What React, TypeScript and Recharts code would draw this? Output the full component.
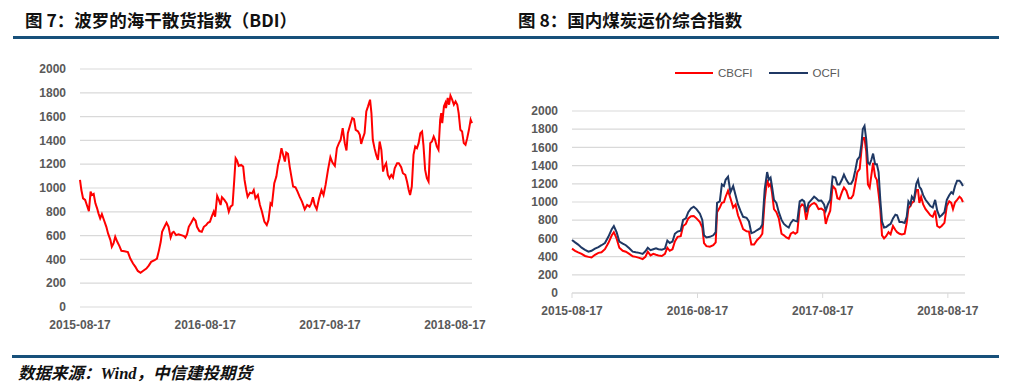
import React from 'react';
import { LineChart, Line, XAxis, YAxis, CartesianGrid, Legend } from 'recharts';

// shared axes
const yearTicks = [0, 366, 731, 1096];
const yearLabels = ['2015-08-17', '2016-08-17', '2017-08-17', '2018-08-17'];
const valueTicks = [0, 200, 400, 600, 800, 1000, 1200, 1400, 1600, 1800, 2000];

// 图7 BDI, x = days since 2015-08-17
const bdiDays = [
  0, 4, 9, 15, 20, 26, 31, 35, 40, 45, 50, 54, 59, 64, 70, 77, 82, 89, 93, 98,
  103, 109, 115, 121, 130, 140, 147, 155, 162, 169, 177, 184, 194, 201, 208, 218, 225, 231, 236, 240,
  247, 253, 259, 265, 270, 274, 281, 288, 296, 304, 308, 313, 318, 325, 332, 338, 342, 349, 356, 362,
  369, 374, 380, 385, 391, 395, 401, 406, 411, 415, 422, 429, 435, 440, 446, 451, 455, 459, 464, 471,
  477, 481, 486, 490, 497, 503, 508, 513, 520, 526, 532, 539, 546, 551, 557, 561, 568,
  574, 579, 584, 589, 594, 599, 603, 608, 613, 618, 623, 630, 636, 642, 649, 657, 664, 671, 676, 681,
  686, 692, 699, 706, 712, 718, 725, 732, 738, 745, 751, 757, 762, 768, 774, 779, 783, 790, 796, 801,
  806, 813, 818, 822, 827, 832, 837, 842, 848, 852, 856, 861, 866, 871, 876, 881, 886, 890, 895, 900,
  905, 910, 915, 920, 927, 932, 939, 944, 951, 956, 961, 965, 970, 975, 980, 985, 990, 995, 1000, 1004,
  1009, 1014, 1019, 1024, 1029, 1034, 1038, 1043, 1048, 1053, 1056, 1059, 1064, 1068, 1070, 1075, 1079, 1083, 1088, 1093,
  1098, 1103, 1107, 1112, 1117, 1122, 1127, 1132, 1137, 1142, 1146,
];
const bdiValues = [
  1068, 983, 913, 900, 857, 806, 970, 941, 950, 871, 829, 787, 745, 781, 731, 674, 618, 562, 506, 534,
  590, 548, 514, 472, 469, 461, 407, 365, 337, 303, 287, 303, 323, 348, 379, 393, 407, 478, 548, 632,
  674, 708, 674, 584, 624, 632, 604, 610, 604, 596, 582, 612, 674, 708, 745, 725, 674, 638, 632, 674,
  688, 708, 717, 759, 801, 759, 933, 900, 857, 922, 900, 871, 801, 843, 857, 1068, 1250, 1231, 1186, 1194,
  1180, 1068, 983, 927, 961, 955, 983, 913, 941, 857, 801, 717, 688, 731, 871, 857, 1040,
  1096, 1194, 1250, 1335, 1278, 1222, 1298, 1287, 1180, 1096, 1012, 1006, 969, 927, 885, 821, 857, 843, 871, 922,
  857, 821, 913, 983, 941, 1026, 1152, 1259, 1214, 1186, 1335, 1377, 1405, 1503, 1377, 1315, 1461, 1532, 1588, 1579,
  1489, 1475, 1447, 1371, 1419, 1461, 1644, 1686, 1742, 1630, 1405, 1335, 1278, 1236, 1391, 1321, 1138, 1180, 1208, 1110,
  1082, 1110, 1088, 1166, 1208, 1208, 1175, 1124, 1110, 1054, 983, 941, 1012, 1278, 1349, 1335, 1377, 1461, 1475, 1363,
  1152, 1082, 1054, 1377, 1391, 1433, 1405, 1349, 1321, 1574, 1630, 1545, 1686, 1714, 1672, 1756, 1700, 1776, 1742, 1700,
  1728, 1700, 1630, 1489, 1475, 1377, 1363, 1419, 1489, 1574, 1545,
];

// 图8 coal freight indices
const coalDays = [
  0, 9, 18, 28, 38, 48, 57, 67, 77, 86, 96, 106, 116, 122, 130, 138, 148, 157, 167, 177,
  186, 196, 206, 214, 221, 229, 237, 245, 252, 262, 271, 278, 285, 293, 300, 308, 317, 324, 332, 339,
  347, 355, 363, 373, 380, 385, 392, 402, 412, 419, 423, 431, 437, 443, 448, 455, 462, 470, 477, 484,
  491, 499, 509, 516, 523, 531, 540, 549, 555, 562, 569,
  574, 579, 583, 589, 596, 603, 611, 618, 625, 632, 638, 645, 651, 657, 664, 671, 677, 683, 690, 698,
  706, 712, 719, 727, 735, 740, 746, 753, 760, 768, 774, 780, 787, 793, 800, 807, 814, 820, 826, 832,
  839, 844, 848, 853, 858, 863, 868, 873, 878, 884, 889, 894, 899, 904, 910, 916, 923, 929, 936, 943,
  948, 955, 962, 970, 976, 981, 987, 991, 997, 1004, 1009, 1013, 1018, 1024, 1031, 1038, 1045, 1052, 1059, 1065,
  1072, 1078, 1086, 1093, 1100, 1106, 1111, 1117, 1123, 1130, 1135, 1140,
];
const cbcfiValues = [
  488, 464, 447, 430, 407, 397, 390, 420, 441, 447, 481, 549, 634, 668, 600, 498, 464, 454, 430, 403,
  397, 386, 373, 397, 454, 413, 430, 420, 413, 407, 430, 498, 464, 481, 566, 617, 624, 736, 759, 820,
  844, 847, 820, 780, 719, 549, 515, 508, 525, 556, 888, 939, 990, 997, 1058, 1125, 1041, 939, 973, 854,
  786, 702, 678, 675, 532, 532, 583, 617, 651, 1024, 1244,
  1176, 1200, 1108, 922, 888, 820, 651, 634, 610, 597, 651, 668, 651, 668, 939, 973, 956, 803, 939, 973,
  990, 973, 922, 929, 905, 759, 837, 905, 1176, 1142, 1041, 1031, 1108, 1159, 1125, 1041, 1041, 1075, 1200, 1329,
  1363, 1566, 1702, 1702, 1556, 1193, 1159, 1295, 1431, 1278, 1244, 1092, 922, 634, 600, 624, 668, 644, 736, 692,
  668, 651, 644, 651, 770, 929, 956, 990, 1007, 1132, 1132, 990, 1058, 973, 922, 888, 854, 837, 905, 736,
  719, 736, 770, 956, 1007, 990, 922, 997, 1024, 1058, 1041, 1000,
];
const ocfiValues = [
  583, 556, 532, 498, 475, 454, 464, 488, 505, 525, 549, 617, 702, 736, 668, 566, 542, 525, 491, 454,
  447, 441, 430, 458, 498, 471, 481, 491, 481, 475, 488, 576, 549, 566, 651, 675, 685, 803, 820, 888,
  929, 949, 922, 871, 803, 634, 610, 617, 634, 668, 990, 1007, 1193, 1176, 1244, 1278, 1108, 1176, 1075, 973,
  905, 837, 827, 786, 658, 668, 692, 712, 753, 1142, 1329,
  1244, 1268, 1176, 1024, 990, 888, 803, 759, 736, 719, 770, 803, 793, 786, 1007, 1024, 1007, 888, 990, 1024,
  1058, 1041, 1014, 1017, 973, 905, 973, 1024, 1278, 1268, 1193, 1193, 1244, 1302, 1244, 1200, 1200, 1244, 1346, 1464,
  1498, 1634, 1803, 1837, 1685, 1431, 1414, 1464, 1532, 1414, 1414, 1329, 1024, 786, 719, 725, 746, 759, 820, 861,
  854, 780, 780, 770, 837, 1007, 973, 1058, 1024, 1200, 1244, 1166, 1142, 1075, 1024, 990, 956, 939, 1024, 905,
  837, 854, 888, 1024, 1075, 1108, 1092, 1176, 1234, 1234, 1210, 1176,
];

const bdiData = bdiDays.map((d, i) => ({ day: d, bdi: bdiValues[i] }));
const coalData = coalDays.map((d, i) => ({ day: d, CBCFI: cbcfiValues[i], OCFI: ocfiValues[i] }));

const AXIS_FONT = '"Liberation Sans", Arial, sans-serif';
const tickStyle = { fill: '#595959', fontSize: 12, fontWeight: 700, fontFamily: AXIS_FONT };
const fmtYear = (v: number) => yearLabels[yearTicks.indexOf(v)] ?? '';
const RULE = '#17507a';

const CoalLegend = () => (
  <div style={{ display: 'flex', alignItems: 'center', fontFamily: AXIS_FONT, fontSize: 11.5, color: '#595959' }}>
    <span style={{ display: 'inline-block', width: 38, height: 2, background: '#ff0000', marginRight: 5 }} />
    <span style={{ marginRight: 16 }}>CBCFI</span>
    <span style={{ display: 'inline-block', width: 39, height: 2, background: '#1f3864', marginRight: 5 }} />
    <span>OCFI</span>
  </div>
);

export default function App() {
  return (
    <div style={{ position: 'absolute', left: 0, top: 0, width: 1018, height: 387, background: '#fff', overflow: 'hidden' }}>
      <div style={{ position: 'absolute', left: 25, top: 9, fontFamily: '"Noto Sans CJK SC", sans-serif', fontWeight: 700, fontSize: 17.5, lineHeight: '22px', color: '#111' }}>
        图 7：波罗的海干散货指数（BDI）
      </div>
      <div style={{ position: 'absolute', left: 518, top: 9, fontFamily: '"Noto Sans CJK SC", sans-serif', fontWeight: 700, fontSize: 17.5, lineHeight: '22px', color: '#111' }}>
        图 8：国内煤炭运价综合指数
      </div>
      <div style={{ position: 'absolute', left: 13, top: 36, width: 986, height: 3, background: RULE }} />

      <div style={{ position: 'absolute', left: 0, top: 0 }}>
        <LineChart width={509} height={340} data={bdiData} margin={{ top: 69, right: 37, bottom: 0, left: 0 }}>
          <CartesianGrid vertical={false} stroke="#d9d9d9" strokeWidth={1.2} />
          <XAxis
            dataKey="day"
            type="number"
            domain={[0, 1146]}
            ticks={yearTicks}
            interval={0}
            tickFormatter={fmtYear}
            axisLine={false}
            tickLine={false}
            tickSize={0}
            tickMargin={13}
            height={33}
            tick={tickStyle}
          />
          <YAxis
            domain={[0, 2000]}
            ticks={valueTicks}
            interval={0}
            axisLine={false}
            tickLine={false}
            tickSize={0}
            tickMargin={14}
            width={80}
            tick={tickStyle}
          />
          <Line type="linear" dataKey="bdi" stroke="#ff0000" strokeWidth={2} dot={false} isAnimationActive={false} />
        </LineChart>
      </div>

      <div style={{ position: 'absolute', left: 509, top: 0 }}>
        <LineChart width={509} height={340} data={coalData} margin={{ top: 111, right: 53, bottom: 0, left: 0 }}>
          <CartesianGrid vertical={false} stroke="#d9d9d9" strokeWidth={1.2} />
          <XAxis
            dataKey="day"
            type="number"
            domain={[0, 1146]}
            ticks={yearTicks}
            interval={0}
            tickFormatter={fmtYear}
            axisLine={{ stroke: '#d9d9d9', strokeWidth: 1.2 }}
            tickLine={{ stroke: '#d9d9d9' }}
            tickSize={5}
            tickMargin={8}
            height={33}
            tick={tickStyle}
          />
          <YAxis
            domain={[0, 2000]}
            ticks={valueTicks}
            interval={0}
            axisLine={false}
            tickLine={false}
            tickSize={0}
            tickMargin={14}
            width={63}
            tick={tickStyle}
          />
          <Legend content={<CoalLegend />} wrapperStyle={{ top: 67, left: 166, width: 'auto', height: 14 }} />
          <Line type="linear" dataKey="CBCFI" stroke="#ff0000" strokeWidth={2} dot={false} isAnimationActive={false} />
          <Line type="linear" dataKey="OCFI" stroke="#1f3864" strokeWidth={2} dot={false} isAnimationActive={false} />
        </LineChart>
      </div>

      <div style={{ position: 'absolute', left: 12, top: 355, width: 987, height: 3, background: RULE }} />
      <div style={{ position: 'absolute', left: 18, top: 363, fontFamily: '"Liberation Serif", "Noto Sans CJK SC", serif', fontWeight: 700, fontStyle: 'italic', fontSize: 16.5, lineHeight: '22px', color: '#111' }}>
        数据来源：Wind，中信建投期货
      </div>
    </div>
  );
}
